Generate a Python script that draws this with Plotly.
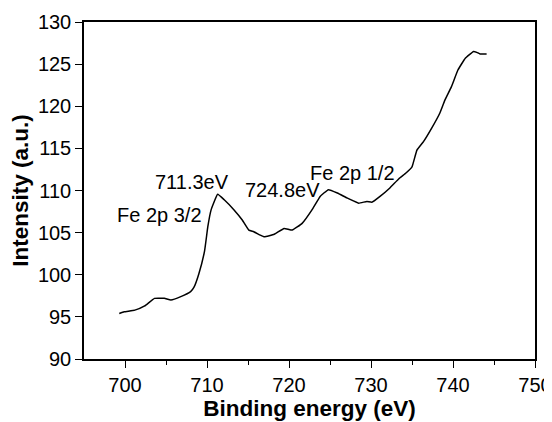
import plotly.graph_objects as go

energy = [699.3, 699.9, 701.2, 702.4, 703.6, 704.8, 705.6, 706.8, 708.0, 708.4, 709.0, 709.7,
          710.1, 710.5, 711.3, 712.1, 713.3, 714.3, 715.1, 715.7, 716.5, 717.0, 718.2, 719.4,
          720.4, 721.6, 722.8, 723.8, 724.8, 725.9, 727.1, 728.5, 729.5, 730.1, 731.1, 732.3,
          733.4, 734.3, 735.0, 735.6, 736.4, 737.4, 738.4, 739.0, 739.8, 740.6, 741.5, 742.5,
          742.9, 743.3, 744.1]
intensity = [95.4, 95.6, 95.8, 96.3, 97.2, 97.2, 97.0, 97.4, 98.0, 98.5, 100.1, 102.8,
             105.7, 107.7, 109.55, 108.9, 107.7, 106.5, 105.3, 105.1, 104.7, 104.5, 104.8, 105.5,
             105.3, 106.1, 107.7, 109.3, 110.1, 109.7, 109.1, 108.5, 108.7, 108.6, 109.3, 110.3,
             111.4, 112.1, 112.8, 114.8, 115.8, 117.4, 119.2, 120.7, 122.3, 124.3, 125.7, 126.5,
             126.4, 126.2, 126.2]

labels = ["711.3eV", "Fe 2p 3/2", "724.8eV", "Fe 2p 1/2"]
label_x = [708.2, 704.2, 719.2, 727.8]
label_y = [111.0, 107.1, 110.06, 112.1]

x_ticks = [700, 710, 720, 730, 740, 750]
y_ticks = [90, 95, 100, 105, 110, 115, 120, 125, 130]

FONT = "Arial, Liberation Sans, sans-serif"

fig = go.Figure()
fig.add_trace(go.Scatter(x=energy, y=intensity, mode="lines",
                         line=dict(color="black", width=1.5, shape="spline", smoothing=0.3),
                         showlegend=False, hoverinfo="skip"))

for t, xv, yv in zip(labels, label_x, label_y):
    fig.add_annotation(x=xv, y=yv, text=t, showarrow=False,
                       font=dict(family=FONT, size=20, color="black"))

fig.update_layout(
    width=544, height=414,
    margin=dict(l=76, r=17, t=14, b=63),
    paper_bgcolor="white", plot_bgcolor="white",
    font=dict(family=FONT, color="black"),
    xaxis=dict(range=[695, 750], tickvals=x_ticks, ticks="outside", ticklen=7, tickwidth=1.3,
               tickcolor="black", showline=True, linecolor="black", linewidth=1.5, mirror=True,
               showgrid=False, zeroline=False, tickfont=dict(size=20, family=FONT),
               automargin=False,
               minor=dict(tickvals=[705, 715, 725, 735, 745], ticks="outside", ticklen=4,
                          tickwidth=1.3, tickcolor="black", showgrid=False),
               title=dict(text="<b>Binding energy (eV)</b>", font=dict(size=22.5, family=FONT),
                          standoff=3)),
    yaxis=dict(range=[90, 130], tickvals=y_ticks, ticks="outside", ticklen=7, tickwidth=1.3,
               tickcolor="black", showline=True, linecolor="black", linewidth=1.5, mirror=True,
               showgrid=False, zeroline=False, tickfont=dict(size=20, family=FONT),
               automargin=False,
               title=dict(text="<b>Intensity (a.u.)</b>", font=dict(size=22.5, family=FONT),
                          standoff=4)),
)

fig.write_html("out.html")
